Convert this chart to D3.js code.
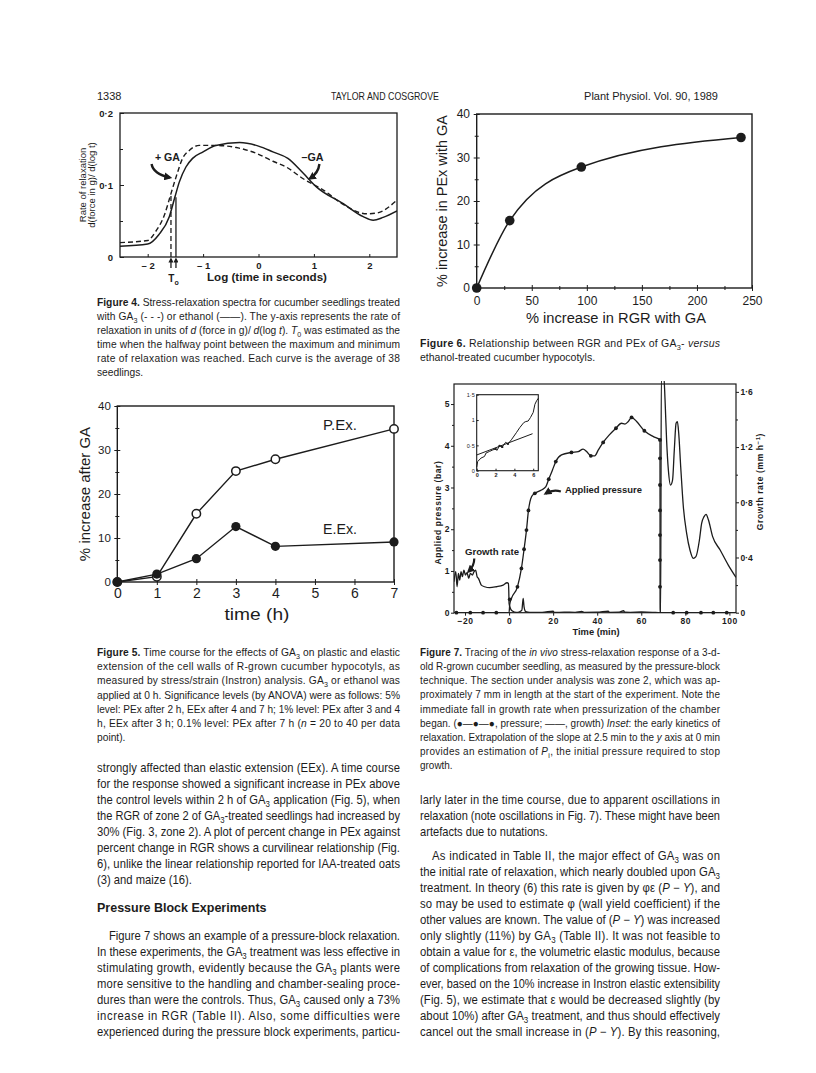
<!DOCTYPE html>
<html><head><meta charset="utf-8">
<script src="https://cdnjs.cloudflare.com/ajax/libs/d3/7.8.5/d3.min.js"></script>
<style>
html,body{margin:0;padding:0;background:#fff;}
svg{display:block;color:#1c1c1c;}
text{font-family:"Liberation Sans",Arial,Helvetica,sans-serif;fill:#1c1c1c;}
</style></head><body>
<svg id="page" width="816" height="1073" viewBox="0 0 816 1073"></svg>
<script>
// ================= DATA =================
// Figure 4: stress-relaxation spectra
const fig4XTicks = [-2, -1, 0, 1, 2];
const fig4YTicks = [0, 0.1, 0.2];
const fig4YMinor = [0.05, 0.15];
const fig4LogTimeSolid = [-2.5,-2.0,-1.8,-1.61,-1.51,-1.43,-1.31,-1.19,-1.0,-0.77,-0.34,0,0.26,0.53,0.8,1.05,1.53,1.89,2.07,2.25,2.5];
const fig4RateSolid    = [0.015,0.018,0.031,0.056,0.083,0.104,0.125,0.137,0.146,0.155,0.159,0.154,0.146,0.137,0.117,0.097,0.074,0.056,0.051,0.055,0.064];
const fig4LogTimeDashed = [-2.5,-2.0,-1.86,-1.7,-1.58,-1.48,-1.37,-1.25,-1.07,-0.77,-0.4,-0.04,0.26,0.5,0.8,1.17,1.53,1.95,2.13,2.5];
const fig4RateDashed    = [0.02,0.023,0.035,0.058,0.088,0.113,0.137,0.148,0.155,0.155,0.152,0.144,0.133,0.125,0.109,0.093,0.073,0.060,0.061,0.079];
const fig4T0LogTime = [-1.58, -1.49];   // +GA (dashed), -GA (solid)
const fig4T0Rate    = [0.088, 0.083];

// Figure 5: time course
const fig5Hours = [0, 1, 2, 3, 4, 7];
const fig5PEx   = [0, 1.2, 15.5, 25.2, 27.9, 34.8];
const fig5EEx   = [0, 1.8, 5.3, 12.6, 8.1, 9.1];
const fig5XTicks = [0, 1, 2, 3, 4, 5, 6, 7];
const fig5YTicks = [0, 10, 20, 30, 40];
const fig5YMinor = [5, 15, 25, 35];

// Figure 6: PEx vs RGR
const fig6RGR = [0, 30, 95, 240];
const fig6PEx = [0, 15.5, 27.8, 34.6];
const fig6XTicks = [0, 50, 100, 150, 200, 250];
const fig6XMinor = [25, 75, 125, 175, 225];
const fig6YTicks = [0, 10, 20, 30, 40];
const fig6YMinor = [5, 15, 25, 35];

// Figure 7: pressure-block tracing
const fig7PressTime = [-25,0,0.3,1.06,3.8,5.6,6.8,7.9,8.8,10.2,11.7,14.7,16.7,18,19.7,21.2,23.8,28.3,31.4,33.6,35.2,37.1,38.9,40.5,42.7,45.5,48.5,51,52.6,54.1,55.6,57.9,61.4,65.5,68.5,68.55,103];
const fig7PressBar  = [0,0,0.2,0.34,0.62,1.06,1.52,1.98,2.45,2.78,2.86,2.94,3.02,3.2,3.42,3.62,3.78,3.84,3.86,3.92,3.86,3.76,3.76,3.9,4.08,4.26,4.42,4.54,4.52,4.58,4.68,4.58,4.36,4.22,4.14,0,0];
const fig7DotTime = [-23.9,-17.6,-11.8,-5.8,0.3,3.8,5.6,6.8,7.9,8.8,11.7,18,21.2,28.3,37.1,42.7,48.5,55.6,61.4,68.5,68.5,68.5,68.5,68.5,68.5,68.5,74.5,80.6,87.1,92.7,98.8];
const fig7DotBar  = [0,0,0,0,0.32,0.62,1.06,1.52,1.98,2.45,2.86,3.2,3.62,3.84,3.76,4.08,4.42,4.68,4.36,4.14,3.7,3.06,2.45,1.86,1.26,0.62,0,0,0,0,0];
const fig7GrowthTime = [-25,-24.2,-23.6,-23.0,-22.4,-21.8,-21.2,-20.5,-19.8,-19.1,-18.3,-17.6,-16.7,-15.9,-15.2,-14.5,-13.9,-13.3,-12.6,-11.1,-8.8,-5.8,-2.7,-0.9,-0.3,-0.15,0,0.6,1.5,3.3,4.8,5.8,6.4,6.8,7.6,9.4,12,15,20,20.5,25,30,33,34,40,45,45.5,50,52,52.5,55,60,65,68.8,69.1,70.2,70.8,71.5,72.3,73.3,74.2,75,75.8,76.4,77,77.9,79.1,80.6,82.1,83.6,84.8,86.4,87.4,88.5,89.4,90.5,92.4,95.8,99.5,103];
const fig7GrowthRate = [0.225,0.297,0.188,0.285,0.237,0.297,0.261,0.309,0.273,0.29,0.249,0.285,0.273,0.297,0.309,0.261,0.249,0.225,0.2,0.188,0.181,0.188,0.2,0.217,0.212,0.164,0.068,0.031,0.012,0.002,0.007,0.019,0.104,0.043,0.007,0.002,0.003,0.002,0.012,0.002,0.004,0.003,0.01,0.003,0.004,0.012,0.003,0.004,0.014,0.004,0.003,0.005,0.003,0,1.72,1.72,1.54,1.25,1.034,0.925,0.96,1.18,1.372,1.384,1.30,1.058,0.768,0.575,0.454,0.394,0.406,0.527,0.647,0.696,0.713,0.672,0.551,0.454,0.345,0.256];
const fig7XTicks = [-20, 0, 20, 40, 60, 80, 100];
const fig7YLeftTicks = [0, 1, 2, 3, 4, 5];
const fig7YLeftMinor = [0.5, 1.5, 2.5, 3.5, 4.5];
const fig7YRightTicks = [0, 0.4, 0.8, 1.2, 1.6];
const fig7YRightMinor = [0.2, 0.6, 1.0, 1.4];
// inset
const insetTime = [0,0.1,0.46,0.82,1.0,1.36,1.71,2.0,2.14,2.43,2.71,3.07,3.32,3.68,4.21,4.57,5.0,5.21,5.46,5.71,6.0,6.18,6.36,6.54];
const insetBar  = [0.067,0.18,0.25,0.28,0.35,0.38,0.41,0.43,0.40,0.49,0.47,0.56,0.53,0.61,0.75,0.85,0.95,0.97,0.98,1.05,1.15,1.31,1.38,1.43];
const insetDotTime = [2.0, 2.43, 2.71, 3.32];
const insetDotBar  = [0.43, 0.49, 0.47, 0.53];
const insetFitTime = [0, 5.93];
const insetFitBar  = [0.31, 0.73];
const insetXTicks = [0, 2, 4, 6];
const insetYTicks = [0, 0.5, 1, 1.5];

// ================= TEXT =================
const header = ["1338", "TAYLOR AND COSGROVE", "Plant Physiol. Vol. 90, 1989"];
const cap4 = [
 "<b>Figure 4.</b> Stress-relaxation spectra for cucumber seedlings treated",
 "with GA<sub>3</sub> (- - -) or ethanol (——). The y-axis represents the rate of",
 "relaxation in units of <i>d</i> (force in g)/ <i>d</i>(log <i>t</i>). <i>T</i><sub>0</sub> was estimated as the",
 "time when the halfway point between the maximum and minimum",
 "rate of relaxation was reached. Each curve is the average of 38",
 "seedlings.|"];
const cap5 = [
 "<b>Figure 5.</b> Time course for the effects of GA<sub>3</sub> on plastic and elastic",
 "extension of the cell walls of R-grown cucumber hypocotyls, as",
 "measured by stress/strain (Instron) analysis. GA<sub>3</sub> or ethanol was",
 "applied at 0 h. Significance levels (by ANOVA) were as follows: 5%",
 "level: PEx after 2 h, EEx after 4 and 7 h; 1% level: PEx after 3 and 4",
 "h, EEx after 3 h; 0.1% level: PEx after 7 h (<i>n</i> = 20 to 40 per data",
 "point).|"];
const cap6 = [
 "<b>Figure 6.</b> Relationship between RGR and PEx of GA<sub>3</sub>- <i>versus</i>",
 "ethanol-treated cucumber hypocotyls.|"];
const cap7 = [
 "<b>Figure 7.</b> Tracing of the <i>in vivo</i> stress-relaxation response of a 3-d-",
 "old R-grown cucumber seedling, as measured by the pressure-block",
 "technique. The section under analysis was zone 2, which was ap-",
 "proximately 7 mm in length at the start of the experiment. Note the",
 "immediate fall in growth rate when pressurization of the chamber",
 "began. (●—●—●, pressure; ——, growth) <i>Inset</i>: the early kinetics of",
 "relaxation. Extrapolation of the slope at 2.5 min to the <i>y</i> axis at 0 min",
 "provides an estimation of <i>P</i><sub>i</sub>, the initial pressure required to stop",
 "growth.|"];
const bodyL1 = [
 "strongly affected than elastic extension (EEx). A time course",
 "for the response showed a significant increase in PEx above",
 "the control levels within 2 h of GA<sub>3</sub> application (Fig. 5), when",
 "the RGR of zone 2 of GA<sub>3</sub>-treated seedlings had increased by",
 "30% (Fig. 3, zone 2). A plot of percent change in PEx against",
 "percent change in RGR shows a curvilinear relationship (Fig.",
 "6), unlike the linear relationship reported for IAA-treated oats",
 "(3) and maize (16).|"];
const headingL = "Pressure Block Experiments";
const bodyL2 = [
 ">Figure 7 shows an example of a pressure-block relaxation.",
 "In these experiments, the GA<sub>3</sub> treatment was less effective in",
 "stimulating growth, evidently because the GA<sub>3</sub> plants were",
 "more sensitive to the handling and chamber-sealing proce-",
 "dures than were the controls. Thus, GA<sub>3</sub> caused only a 73%",
 "increase in RGR (Table II). Also, some difficulties were",
 "experienced during the pressure block experiments, particu-"];
const bodyR1 = [
 "larly later in the time course, due to apparent oscillations in",
 "relaxation (note oscillations in Fig. 7). These might have been",
 "artefacts due to nutations.|"];
const bodyR2 = [
 ">As indicated in Table II, the major effect of GA<sub>3</sub> was on",
 "the initial rate of relaxation, which nearly doubled upon GA<sub>3</sub>",
 "treatment. In theory (6) this rate is given by φε (<i>P</i> − <i>Y</i>), and",
 "so may be used to estimate φ (wall yield coefficient) if the",
 "other values are known. The value of (<i>P</i> − <i>Y</i>) was increased",
 "only slightly (11%) by GA<sub>3</sub> (Table II). It was not feasible to",
 "obtain a value for ε, the volumetric elastic modulus, because",
 "of complications from relaxation of the growing tissue. How-",
 "ever, based on the 10% increase in Instron elastic extensibility",
 "(Fig. 5), we estimate that ε would be decreased slightly (by",
 "about 10%) after GA<sub>3</sub> treatment, and thus should effectively",
 "cancel out the small increase in (<i>P</i> − <i>Y</i>). By this reasoning,"];

// ================= HELPERS =================
const INK = "#1c1c1c";
const svg = d3.select("#page");
const defs = svg.append("defs");
function marker(id, size){
  defs.append("marker").attr("id", id).attr("viewBox","0 0 10 10").attr("refX",7).attr("refY",5)
    .attr("markerWidth",size).attr("markerHeight",size).attr("markerUnits","userSpaceOnUse").attr("orient","auto")
    .append("path").attr("d","M0,0L10,5L0,10z").attr("fill",INK);
}
marker("ah", 8); marker("ahs", 5);
const fmtInt = d3.format("d");

function rich(t, str, fs){
  const parts = str.split(/(<\/?(?:b|i|sub|sup)>)/).filter(s => s.length);
  let b=false, it=false, mode=0, cur=0;
  for (const p of parts){
    if (p==="<b>"){b=true;continue;} if (p==="</b>"){b=false;continue;}
    if (p==="<i>"){it=true;continue;} if (p==="</i>"){it=false;continue;}
    if (p==="<sub>"){mode=1;continue;} if (p==="</sub>"){mode=0;continue;}
    if (p==="<sup>"){mode=-1;continue;} if (p==="</sup>"){mode=0;continue;}
    const target = mode===1 ? fs*0.25 : (mode===-1 ? -fs*0.4 : 0);
    const ts = t.append("tspan").text(p);
    if (target !== cur){ ts.attr("dy", target-cur); cur = target; }
    if (b) ts.attr("font-weight","bold");
    if (it) ts.attr("font-style","italic");
    if (mode!==0) ts.attr("font-size", fs*0.7);
  }
}
function block(lines, x, y0, lh, width, fs, indent){
  indent = indent || 12;
  const g = svg.append("g").attr("transform", `translate(${x},0)`);
  const inner = g.append("g");
  const items = lines.map((ln, k) => {
    let s = ln, ind = 0, just = true;
    if (s.startsWith(">")){ s = s.slice(1); ind = indent; }
    if (s.endsWith("|")){ s = s.slice(0,-1); just = false; }
    const t = inner.append("text").attr("x", ind).attr("y", y0 + k*lh).attr("font-size", fs);
    rich(t, s, fs);
    return {t, ind, just, nat: t.node().getComputedTextLength()};
  });
  const ratios = items.filter(d => d.just).map(d => (width - d.ind)/d.nat).sort(d3.ascending);
  const sx = Math.min(1, ratios.length ? d3.quantile(ratios, 0.2) : 0.9);
  inner.attr("transform", `scale(${sx},1)`);
  items.forEach(d => {
    d.t.attr("x", d.ind/sx);
    if (d.just){
      const target = (width - d.ind)/sx;
      d.t.attr("textLength", target).attr("lengthAdjust", d.nat > target ? "spacingAndGlyphs" : "spacing");
    }
  });
}
function label(x, y, str, fs, opts){
  opts = opts || {};
  const t = svg.append("text").attr("x", x).attr("y", y).attr("font-size", fs)
    .attr("text-anchor", opts.anchor || "start");
  if (opts.bold) t.attr("font-weight","bold");
  if (opts.rotate) t.attr("transform", `rotate(-90,${x},${y})`);
  if (opts.ls) t.attr("letter-spacing", opts.ls);
  rich(t, str, fs);
  if (opts.len){ t.attr("textLength", opts.len).attr("lengthAdjust","spacingAndGlyphs"); }
  return t;
}
const dotFmt = d => d === 0 ? "0" : (Number.isInteger(d) ? String(d) : d3.format(".1f")(d).replace(".", "·"));
const dotFmt1 = d => d === 0 ? "0" : d3.format(".1f")(d).replace(".", "·");
function styleAxis(g, fs, bold){
  g.select(".domain").remove();
  g.selectAll("text").attr("font-size", fs).attr("font-family", null).attr("font-weight", bold ? "bold" : null);
  g.selectAll("line").attr("stroke", INK).attr("stroke-width", 1);
}

// ================= HEADER =================
label(97, 100, header[0], 11);
label(385, 100, header[1], 10.5, {anchor:"middle", len:108});
label(718, 100, header[2], 11, {anchor:"end"});

// ================= FIGURE 4 =================
{
  const f = {l:120, r:397, t:113, b:257};
  const x = d3.scaleLinear().domain([-2.5, 2.5]).range([f.l, f.r]);
  const y = d3.scaleLinear().domain([0, 0.2]).range([f.b, f.t]);
  svg.append("rect").attr("x", f.l).attr("y", f.t).attr("width", f.r-f.l).attr("height", f.b-f.t)
    .attr("fill","none").attr("stroke", INK).attr("stroke-width", 1.3);
  const ay = svg.append("g").attr("transform", `translate(${f.l},0)`)
    .call(d3.axisLeft(y).tickValues(fig4YTicks).tickSize(-4).tickPadding(7).tickFormat(dotFmt1));
  styleAxis(ay, 9.5, true);
  const aym = svg.append("g").attr("transform", `translate(${f.l},0)`)
    .call(d3.axisLeft(y).tickValues(fig4YMinor).tickSize(-3).tickFormat(""));
  styleAxis(aym, 9, true);
  const ax = svg.append("g").attr("transform", `translate(0,${f.b})`)
    .call(d3.axisBottom(x).tickValues(fig4XTicks).tickSize(-3).tickPadding(5)
      .tickFormat(d => d < 0 ? "– " + Math.abs(d) : String(d)));
  styleAxis(ax, 9.5, true);

  const clip = defs.append("clipPath").attr("id","c4");
  clip.append("rect").attr("x", f.l).attr("y", f.t).attr("width", f.r-f.l).attr("height", f.b-f.t);
  const line = d3.line().x(d => x(d[0])).y(d => y(d[1])).curve(d3.curveMonotoneX);
  svg.append("path").attr("clip-path","url(#c4)").attr("d", line(d3.zip(fig4LogTimeSolid, fig4RateSolid)))
    .attr("fill","none").attr("stroke", INK).attr("stroke-width", 1.5);
  svg.append("path").attr("clip-path","url(#c4)").attr("d", line(d3.zip(fig4LogTimeDashed, fig4RateDashed)))
    .attr("fill","none").attr("stroke", INK).attr("stroke-width", 1.4).attr("stroke-dasharray","5,3");
  fig4T0LogTime.forEach((lt, i) => {
    svg.append("line").attr("x1", x(lt)).attr("x2", x(lt)).attr("y1", y(0)).attr("y2", y(fig4T0Rate[i]))
      .attr("stroke", INK).attr("stroke-width", 1.3).attr("stroke-dasharray", i === 0 ? "5,3" : null);
    svg.append("line").attr("x1", x(lt)).attr("x2", x(lt)).attr("y1", f.b + 11).attr("y2", f.b + 2)
      .attr("stroke", INK).attr("stroke-width", 1.3).attr("marker-end","url(#ahs)");
  });
  label(x(d3.mean(fig4T0LogTime)), 282, "T<sub>o</sub>", 10, {anchor:"middle", bold:true});
  label(267, 281, "Log (time in seconds)", 10.5, {anchor:"middle", bold:true, len:120});
  label(167.5, 160.7, "+ GA", 10.5, {anchor:"middle", bold:true, len:25});
  label(312.5, 160.7, "–GA", 10.5, {anchor:"middle", bold:true, len:22});
  svg.append("path").attr("d", `M${x(-1.93)},164 Q${x(-1.9)},174 ${x(-1.6)},177.5`)
    .attr("fill","none").attr("stroke", INK).attr("stroke-width", 2.4).attr("marker-end","url(#ah)");
  svg.append("path").attr("d", `M${x(1.1)},164 Q${x(1.08)},173 ${x(0.93)},178.5`)
    .attr("fill","none").attr("stroke", INK).attr("stroke-width", 2.4).attr("marker-end","url(#ah)");
  label(86, y(0.1), "Rate of relaxation", 9.5, {anchor:"middle", rotate:true});
  label(95, y(0.1), "d(force in g)/ d(log t)", 9.5, {anchor:"middle", rotate:true});
}
block(cap4, 97, 306, 14.1, 303, 10.5);

// ================= FIGURE 5 =================
{
  const f = {l:117.3, r:394, t:406, b:582};
  const x = d3.scaleLinear().domain([0, 7]).range([f.l, f.r]);
  const y = d3.scaleLinear().domain([0, 40]).range([f.b, f.t]);
  svg.append("rect").attr("x", f.l).attr("y", f.t).attr("width", f.r-f.l).attr("height", f.b-f.t)
    .attr("fill","none").attr("stroke", INK).attr("stroke-width", 1.4);
  const ay = svg.append("g").attr("transform", `translate(${f.l},0)`)
    .call(d3.axisLeft(y).tickValues(fig5YTicks).tickSize(3).tickPadding(3.5).tickFormat(fmtInt));
  styleAxis(ay, 11.5, false);
  ay.selectAll("line").attr("x1", 3);
  const aym = svg.append("g").attr("transform", `translate(${f.l},0)`)
    .call(d3.axisLeft(y).tickValues(fig5YMinor).tickSize(2).tickFormat(""));
  styleAxis(aym, 11, false);
  aym.selectAll("line").attr("x1", 2);
  const ax = svg.append("g").attr("transform", `translate(0,${f.b})`)
    .call(d3.axisBottom(x).tickValues(fig5XTicks).tickSize(3).tickPadding(3).tickFormat(fmtInt));
  styleAxis(ax, 14, false);
  ax.selectAll("line").attr("y1", -3);
  const line = d3.line().x(d => x(d[0])).y(d => y(d[1]));
  const pex = d3.zip(fig5Hours, fig5PEx), eex = d3.zip(fig5Hours, fig5EEx);
  svg.append("path").attr("d", line(pex)).attr("fill","none").attr("stroke", INK).attr("stroke-width", 1.4);
  svg.append("path").attr("d", line(eex)).attr("fill","none").attr("stroke", INK).attr("stroke-width", 1.4);
  svg.append("g").selectAll("circle").data(pex).join("circle")
    .attr("cx", d => x(d[0])).attr("cy", d => y(d[1])).attr("r", 4.2)
    .attr("fill","#fff").attr("stroke", INK).attr("stroke-width", 1.5);
  svg.append("g").selectAll("circle").data(eex).join("circle")
    .attr("cx", d => x(d[0])).attr("cy", d => y(d[1])).attr("r", 4.6).attr("fill", INK);
  label(323, 430, "P.Ex.", 14, {len:34});
  label(323, 534, "E.Ex.", 14, {len:34});
  label(257, 620, "time (h)", 17, {anchor:"middle", len:65});
  label(90, y(20), "% increase after GA", 15, {anchor:"middle", rotate:true});
}
block(cap5, 97, 656, 14.2, 303, 10.5);

// ================= FIGURE 6 =================
{
  const f = {l:476.7, r:752, t:114, b:288};
  const x = d3.scaleLinear().domain([0, 250]).range([f.l, f.r]);
  const y = d3.scaleLinear().domain([0, 40]).range([f.b, f.t]);
  svg.append("rect").attr("x", f.l).attr("y", f.t).attr("width", f.r-f.l).attr("height", f.b-f.t)
    .attr("fill","none").attr("stroke", INK).attr("stroke-width", 1.4);
  const ay = svg.append("g").attr("transform", `translate(${f.l},0)`)
    .call(d3.axisLeft(y).tickValues(fig6YTicks).tickSize(3).tickPadding(3.7).tickFormat(fmtInt));
  styleAxis(ay, 12, false);
  ay.selectAll("line").attr("x1", 3);
  const aym = svg.append("g").attr("transform", `translate(${f.l},0)`)
    .call(d3.axisLeft(y).tickValues(fig6YMinor).tickSize(2).tickFormat(""));
  styleAxis(aym, 12, false);
  aym.selectAll("line").attr("x1", 2);
  const ax = svg.append("g").attr("transform", `translate(0,${f.b})`)
    .call(d3.axisBottom(x).tickValues(fig6XTicks).tickSize(3).tickPadding(5).tickFormat(fmtInt));
  styleAxis(ax, 12, false);
  ax.selectAll("line").attr("y1", -3);
  const axm = svg.append("g").attr("transform", `translate(0,${f.b})`)
    .call(d3.axisBottom(x).tickValues(fig6XMinor).tickSize(2).tickFormat(""));
  styleAxis(axm, 12, false);
  axm.selectAll("line").attr("y1", -2);
  const pts = d3.zip(fig6RGR, fig6PEx);
  const line = d3.line().x(d => x(d[0])).y(d => y(d[1])).curve(d3.curveMonotoneX);
  svg.append("path").attr("d", line(pts)).attr("fill","none").attr("stroke", INK).attr("stroke-width", 1.5);
  svg.append("g").selectAll("circle").data(pts).join("circle")
    .attr("cx", d => x(d[0])).attr("cy", d => y(d[1])).attr("r", 4.8).attr("fill", INK);
  label(616, 322.5, "% increase in RGR with GA", 14, {anchor:"middle", len:180});
  label(447, y(20), "% increase in PEx with GA", 14, {anchor:"middle", rotate:true, len:172});
}
block(cap6, 420, 347, 14.1, 300, 10.5);

// ================= FIGURE 7 =================
{
  const f = {l:454, r:736, t:384, b:612.7};
  const x = d3.scaleLinear().domain([-25, 103]).range([f.l, f.r]);
  const yP = d3.scaleLinear().domain([0, 5.48]).range([f.b, f.t]);
  const yG = d3.scaleLinear().domain([0, 1.657]).range([f.b, f.t]);
  svg.append("rect").attr("x", f.l).attr("y", f.t).attr("width", f.r-f.l).attr("height", f.b-f.t)
    .attr("fill","none").attr("stroke", INK).attr("stroke-width", 1.2);
  const al = svg.append("g").attr("transform", `translate(${f.l},0)`)
    .call(d3.axisLeft(yP).tickValues(fig7YLeftTicks).tickSize(3).tickPadding(1.5).tickFormat(fmtInt));
  styleAxis(al, 8.5, true);
  const alm = svg.append("g").attr("transform", `translate(${f.l},0)`)
    .call(d3.axisLeft(yP).tickValues(fig7YLeftMinor).tickSize(2).tickFormat(""));
  styleAxis(alm, 8, true);
  const ar = svg.append("g").attr("transform", `translate(${f.r},0)`)
    .call(d3.axisRight(yG).tickValues(fig7YRightTicks).tickSize(3).tickPadding(1.5).tickFormat(dotFmt1));
  styleAxis(ar, 8.5, true);
  const arm = svg.append("g").attr("transform", `translate(${f.r},0)`)
    .call(d3.axisRight(yG).tickValues(fig7YRightMinor).tickSize(2).tickFormat(""));
  styleAxis(arm, 8, true);
  const ab = svg.append("g").attr("transform", `translate(0,${f.b})`)
    .call(d3.axisBottom(x).tickValues(fig7XTicks).tickSize(3).tickPadding(2.5)
      .tickFormat(d => d < 0 ? "−" + Math.abs(d) : String(d)));
  styleAxis(ab, 8.5, true);
  ab.selectAll("text").attr("letter-spacing", 0.6);

  const clip = defs.append("clipPath").attr("id","c7");
  clip.append("rect").attr("x", f.l).attr("y", f.t - 3).attr("width", f.r-f.l).attr("height", f.b-f.t+3);
  const lineP = d3.line().x(d => x(d[0])).y(d => yP(d[1])).curve(d3.curveMonotoneX);
  const lineG = d3.line().x(d => x(d[0])).y(d => yG(d[1])).curve(d3.curveMonotoneX);
  svg.append("path").attr("clip-path","url(#c7)").attr("d", lineG(d3.zip(fig7GrowthTime, fig7GrowthRate)))
    .attr("fill","none").attr("stroke", INK).attr("stroke-width", 1.3);
  svg.append("path").attr("clip-path","url(#c7)").attr("d", lineP(d3.zip(fig7PressTime, fig7PressBar)))
    .attr("fill","none").attr("stroke", INK).attr("stroke-width", 1.3);
  svg.append("g").selectAll("circle").data(d3.zip(fig7DotTime, fig7DotBar)).join("circle")
    .attr("cx", d => x(d[0])).attr("cy", d => yP(d[1])).attr("r", 1.9).attr("fill", INK);

  label(565, 493.3, "Applied pressure", 8.5, {bold:true, len:77});
  svg.append("path").attr("d", `M${x(23.5)},491.5 Q${x(20)},489 ${x(16.6)},493.5`)
    .attr("fill","none").attr("stroke", INK).attr("stroke-width", 2.2).attr("marker-end","url(#ah)");
  label(465, 555, "Growth rate", 8.5, {bold:true, len:54});
  svg.append("path").attr("d", `M${x(-15.8)},558.5 Q${x(-15.8)},566 ${x(-18.4)},571.5`)
    .attr("fill","none").attr("stroke", INK).attr("stroke-width", 2.2).attr("marker-end","url(#ah)");
  label(596, 635, "Time (min)", 8.5, {anchor:"middle", bold:true, len:47});
  label(441, yP(2.4), "Applied pressure (bar)", 8.5, {anchor:"middle", bold:true, rotate:true, ls:0.6});
  label(763, yG(0.95), "Growth rate (mm h<sup>−1</sup>)", 8.5, {anchor:"middle", bold:true, rotate:true, ls:0.6});

  // inset
  const fi = {l:476.7, r:538.3, t:394.7, b:470.7};
  const xi = d3.scaleLinear().domain([0, 6.54]).range([fi.l, fi.r]);
  const yi = d3.scaleLinear().domain([0, 1.5]).range([fi.b, fi.t]);
  svg.append("rect").attr("x", fi.l).attr("y", fi.t).attr("width", fi.r-fi.l).attr("height", fi.b-fi.t)
    .attr("fill","#fff").attr("stroke", INK).attr("stroke-width", 1.1);
  const ail = svg.append("g").attr("transform", `translate(${fi.l},0)`)
    .call(d3.axisLeft(yi).tickValues(insetYTicks).tickSize(-2).tickPadding(2).tickFormat(dotFmt));
  styleAxis(ail, 5.5, false);
  const aib = svg.append("g").attr("transform", `translate(0,${fi.b})`)
    .call(d3.axisBottom(xi).tickValues(insetXTicks).tickSize(-2).tickPadding(2).tickFormat(fmtInt));
  styleAxis(aib, 5.5, true);
  const li = d3.line().x(d => xi(d[0])).y(d => yi(d[1]));
  svg.append("path").attr("d", li(d3.zip(insetTime, insetBar))).attr("fill","none").attr("stroke", INK).attr("stroke-width", 1);
  svg.append("path").attr("d", li(d3.zip(insetFitTime, insetFitBar))).attr("fill","none").attr("stroke", INK).attr("stroke-width", 1);
  svg.append("g").selectAll("circle").data(d3.zip(insetDotTime, insetDotBar)).join("circle")
    .attr("cx", d => xi(d[0])).attr("cy", d => yi(d[1])).attr("r", 1.2).attr("fill", INK);
}
block(cap7, 420, 656, 14.15, 300, 10.5);

// ================= BODY TEXT =================
block(bodyL1, 97, 772, 16, 303, 12);
label(97, 912, headingL, 12.5, {bold:true});
block(bodyL2, 97, 940, 16, 303, 12);
block(bodyR1, 420, 804, 16, 300, 12);
block(bodyR2, 420, 860, 16, 300, 12);
</script>
</body></html>
